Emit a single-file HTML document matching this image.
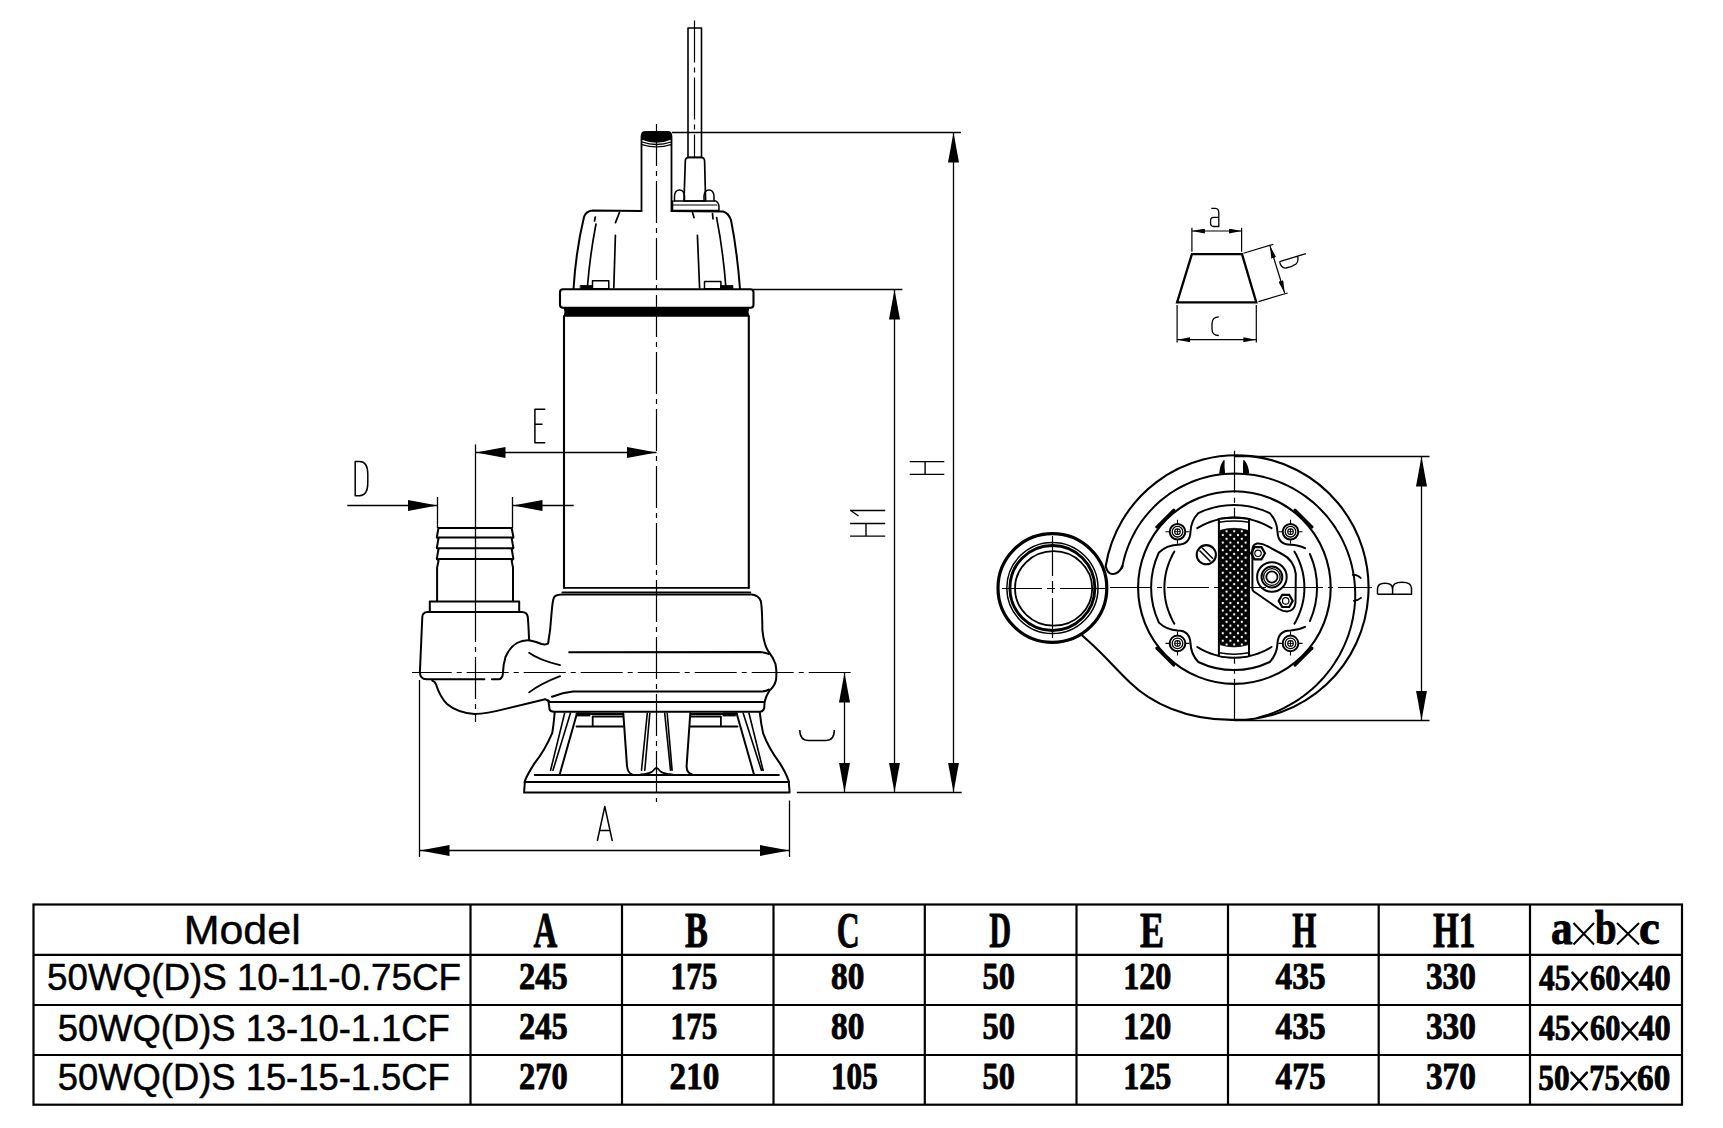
<!DOCTYPE html>
<html><head><meta charset="utf-8">
<style>
html,body{margin:0;padding:0;background:#fff;width:1723px;height:1128px;overflow:hidden}
svg{display:block}
.s{font-family:"Liberation Sans",sans-serif}
.n{font-family:"Liberation Serif",serif;font-weight:bold}
</style></head>
<body>
<svg width="1723" height="1128" viewBox="0 0 1723 1128">
<defs>
<marker id="ar" viewBox="0 0 30 11" refX="30" refY="5.5" markerWidth="30" markerHeight="11" markerUnits="userSpaceOnUse" orient="auto-start-reverse"><path d="M0,0 L30,5.5 L0,11 Z" fill="#000"/></marker>
<marker id="sa" viewBox="0 0 13 5" refX="13" refY="2.5" markerWidth="13" markerHeight="5" markerUnits="userSpaceOnUse" orient="auto-start-reverse"><path d="M0,0 L13,2.5 L0,5 Z" fill="#000"/></marker>
<pattern id="dots" x="1222.8" y="527.5" width="7.6" height="7.55" patternUnits="userSpaceOnUse"><rect width="7.6" height="7.55" fill="#000"/><circle cx="3.8" cy="3.78" r="1.15" fill="#fff"/><circle cx="0" cy="0" r="1.15" fill="#fff"/><circle cx="7.6" cy="0" r="1.15" fill="#fff"/><circle cx="0" cy="7.55" r="1.15" fill="#fff"/><circle cx="7.6" cy="7.55" r="1.15" fill="#fff"/></pattern>
</defs>
<rect width="1723" height="1128" fill="#fff"/>

<!-- TABLE -->
<g id="table" stroke="#000" stroke-width="2.2" fill="none">
<rect x="33.5" y="904.5" width="1648.5" height="200.2"/>
<line x1="33.5" y1="954.8" x2="1682" y2="954.8"/>
<line x1="33.5" y1="1005" x2="1682" y2="1005"/>
<line x1="33.5" y1="1055" x2="1682" y2="1055"/>
<line x1="470.5" y1="904.5" x2="470.5" y2="1104.7"/>
<line x1="622" y1="904.5" x2="622" y2="1104.7"/>
<line x1="773.5" y1="904.5" x2="773.5" y2="1104.7"/>
<line x1="924.8" y1="904.5" x2="924.8" y2="1104.7"/>
<line x1="1076.5" y1="904.5" x2="1076.5" y2="1104.7"/>
<line x1="1228" y1="904.5" x2="1228" y2="1104.7"/>
<line x1="1378.7" y1="904.5" x2="1378.7" y2="1104.7"/>
<line x1="1530" y1="904.5" x2="1530" y2="1104.7"/>
</g>
<g id="ttext" fill="#000">
<text class="s" x="183.7" y="943.5" font-size="40" stroke="#000" stroke-width="0.4" textLength="117" lengthAdjust="spacingAndGlyphs">Model</text>
<text class="s" x="47" y="990.3" font-size="37.5" stroke="#000" stroke-width="0.5" textLength="414" lengthAdjust="spacingAndGlyphs">50WQ(D)S 10-11-0.75CF</text>
<text class="s" x="57.8" y="1040.5" font-size="37.5" stroke="#000" stroke-width="0.5" textLength="392" lengthAdjust="spacingAndGlyphs">50WQ(D)S 13-10-1.1CF</text>
<text class="s" x="57.8" y="1090" font-size="37.5" stroke="#000" stroke-width="0.5" textLength="392" lengthAdjust="spacingAndGlyphs">50WQ(D)S 15-15-1.5CF</text>
<g class="n" font-size="38" stroke="#000" stroke-width="0.9" stroke-linejoin="round">
<g font-size="50.5">
<text x="533.4" y="946.8" textLength="23.8" lengthAdjust="spacingAndGlyphs">A</text>
<text x="684.9" y="946.8" textLength="22.9" lengthAdjust="spacingAndGlyphs">B</text>
<text x="836.7" y="946.8" textLength="22.9" lengthAdjust="spacingAndGlyphs">C</text>
<text x="989.2" y="946.8" textLength="21.9" lengthAdjust="spacingAndGlyphs">D</text>
<text x="1139.9" y="946.8" textLength="24.1" lengthAdjust="spacingAndGlyphs">E</text>
<text x="1292.2" y="946.8" textLength="24.1" lengthAdjust="spacingAndGlyphs">H</text>
<text x="1433" y="946.8" textLength="42.4" lengthAdjust="spacingAndGlyphs">H1</text>
</g>
<g font-size="48">
<text x="1550.9" y="944.3" textLength="21.6" lengthAdjust="spacingAndGlyphs">a</text>
<text x="1595" y="944.3" textLength="21.6" lengthAdjust="spacingAndGlyphs">b</text>
<text x="1639" y="944.3" textLength="20.8" lengthAdjust="spacingAndGlyphs">c</text>
</g>
<path d="M1573.5,923 L1594,944.5 M1594,923 L1573.5,944.5 M1617,923 L1639,944.5 M1639,923 L1617,944.5" stroke="#000" stroke-width="2" fill="none"/>

<text x="519" y="989" textLength="48.7" lengthAdjust="spacingAndGlyphs">245</text>
<text x="670.6" y="989" textLength="46.7" lengthAdjust="spacingAndGlyphs">175</text>
<text x="831" y="989" textLength="33.3" lengthAdjust="spacingAndGlyphs">80</text>
<text x="982.5" y="989" textLength="32.4" lengthAdjust="spacingAndGlyphs">50</text>
<text x="1123.2" y="989" textLength="48.2" lengthAdjust="spacingAndGlyphs">120</text>
<text x="1275.5" y="989" textLength="50.1" lengthAdjust="spacingAndGlyphs">435</text>
<text x="1425.9" y="989" textLength="50.1" lengthAdjust="spacingAndGlyphs">330</text>
<text x="1539.1" y="990.2" font-size="36.5" textLength="31.4" lengthAdjust="spacingAndGlyphs">45</text>
<text x="1590.1" y="990.2" font-size="36.5" textLength="30.4" lengthAdjust="spacingAndGlyphs">60</text>
<text x="1638.4" y="990.2" font-size="36.5" textLength="32.2" lengthAdjust="spacingAndGlyphs">40</text>
<path d="M1572.4,972.7 L1586.9,989.4000000000001 M1586.9,972.7 L1572.4,989.4000000000001" stroke-width="2.6" stroke-linecap="round"/>
<path d="M1622.4,972.7 L1637.4,989.4000000000001 M1637.4,972.7 L1622.4,989.4000000000001" stroke-width="2.6" stroke-linecap="round"/>

<text x="519" y="1039" textLength="48.7" lengthAdjust="spacingAndGlyphs">245</text>
<text x="670.6" y="1039" textLength="46.7" lengthAdjust="spacingAndGlyphs">175</text>
<text x="831" y="1039" textLength="33.3" lengthAdjust="spacingAndGlyphs">80</text>
<text x="982.5" y="1039" textLength="32.4" lengthAdjust="spacingAndGlyphs">50</text>
<text x="1123.2" y="1039" textLength="48.2" lengthAdjust="spacingAndGlyphs">120</text>
<text x="1275.5" y="1039" textLength="50.1" lengthAdjust="spacingAndGlyphs">435</text>
<text x="1425.9" y="1039" textLength="50.1" lengthAdjust="spacingAndGlyphs">330</text>
<text x="1539.1" y="1040.2" font-size="36.5" textLength="31.4" lengthAdjust="spacingAndGlyphs">45</text>
<text x="1590.1" y="1040.2" font-size="36.5" textLength="30.4" lengthAdjust="spacingAndGlyphs">60</text>
<text x="1638.4" y="1040.2" font-size="36.5" textLength="32.2" lengthAdjust="spacingAndGlyphs">40</text>
<path d="M1572.4,1022.7 L1586.9,1039.4 M1586.9,1022.7 L1572.4,1039.4" stroke-width="2.6" stroke-linecap="round"/>
<path d="M1622.4,1022.7 L1637.4,1039.4 M1637.4,1022.7 L1622.4,1039.4" stroke-width="2.6" stroke-linecap="round"/>

<text x="519" y="1089" textLength="48.7" lengthAdjust="spacingAndGlyphs">270</text>
<text x="669.6" y="1089" textLength="49.6" lengthAdjust="spacingAndGlyphs">210</text>
<text x="831" y="1089" textLength="46.7" lengthAdjust="spacingAndGlyphs">105</text>
<text x="982.5" y="1089" textLength="32.4" lengthAdjust="spacingAndGlyphs">50</text>
<text x="1123.2" y="1089" textLength="48.2" lengthAdjust="spacingAndGlyphs">125</text>
<text x="1275.5" y="1089" textLength="50.1" lengthAdjust="spacingAndGlyphs">475</text>
<text x="1425.9" y="1089" textLength="50.1" lengthAdjust="spacingAndGlyphs">370</text>
<text x="1538.3" y="1090.2" font-size="36.5" textLength="31.3" lengthAdjust="spacingAndGlyphs">50</text>
<text x="1589.2" y="1090.2" font-size="36.5" textLength="30.5" lengthAdjust="spacingAndGlyphs">75</text>
<text x="1637.1" y="1090.2" font-size="36.5" textLength="33.1" lengthAdjust="spacingAndGlyphs">60</text>
<path d="M1571.5,1072.7 L1586.9,1089.4 M1586.9,1072.7 L1571.5,1089.4" stroke-width="2.6" stroke-linecap="round"/>
<path d="M1621.5,1072.7 L1635.6,1089.4 M1635.6,1072.7 L1621.5,1089.4" stroke-width="2.6" stroke-linecap="round"/>
</g>
</g>

<!-- DIMENSIONS -->
<g id="dims" stroke="#000" stroke-width="1.3" fill="none">
<!-- H -->
<line x1="672" y1="132.5" x2="961" y2="132.5"/>
<line x1="953.5" y1="132.5" x2="953.5" y2="792.5" marker-start="url(#ar)" marker-end="url(#ar)"/>
<!-- H1 -->
<line x1="753" y1="289.5" x2="902.4" y2="289.5"/>
<line x1="894.5" y1="289.5" x2="894.5" y2="792.5" marker-start="url(#ar)" marker-end="url(#ar)"/>
<!-- C -->
<line x1="844.5" y1="672.5" x2="844.5" y2="792.5" marker-start="url(#ar)" marker-end="url(#ar)"/>
<line x1="796.8" y1="792.5" x2="961.7" y2="792.5"/>
<!-- A -->
<line x1="419.5" y1="680" x2="419.5" y2="857"/>
<line x1="789.5" y1="800.5" x2="789.5" y2="857"/>
<line x1="419.5" y1="850.5" x2="789.5" y2="850.5" marker-start="url(#ar)" marker-end="url(#ar)"/>
<!-- E -->
<line x1="475.5" y1="444.4" x2="475.5" y2="600"/>
<line x1="475.5" y1="452.5" x2="656.5" y2="452.5" marker-start="url(#ar)" marker-end="url(#ar)"/>
<!-- D -->
<line x1="437.5" y1="497" x2="437.5" y2="528"/>
<line x1="512.5" y1="497" x2="512.5" y2="528"/>
<line x1="347.3" y1="505.5" x2="437.5" y2="505.5" marker-end="url(#ar)"/>
<line x1="512.5" y1="505.5" x2="573.7" y2="505.5" marker-start="url(#ar)"/>
<!-- B -->
<line x1="1234" y1="456.5" x2="1429.5" y2="456.5"/>
<line x1="1234" y1="720.5" x2="1429.5" y2="720.5"/>
<line x1="1421.5" y1="456.5" x2="1421.5" y2="720.5" marker-start="url(#ar)" marker-end="url(#ar)"/>
</g>

<!-- dimension letters (stroke font) -->
<g id="letters" stroke="#000" stroke-width="1.4" fill="none" stroke-linecap="butt">
<!-- H rotated -->
<path d="M909.7,461.6 H944.3 M909.7,474.4 H944.3 M925.1,461.6 V474.4"/>
<!-- H1 rotated -->
<path d="M850.1,523.5 H885.2 M850.1,536.1 H885.2 M866,523.5 V536.1 M850.1,510.5 H885.2 M850.6,510.5 L858.6,516"/>
</g>


<g id="pump" stroke="#000" stroke-width="2" fill="none" stroke-linejoin="round" stroke-linecap="round">
<!-- cable -->
<rect x="688" y="28" width="13.5" height="129.5" stroke-width="1.6"/>
<path d="M684,201 L685.3,161 Q685.5,157.3 689,157.3 H701 Q704.5,157.3 704.6,161 L705.6,201 Z" stroke-width="1.7"/>
<path d="M674.5,201 V196 Q675,190 679.5,190 Q684,190 684.5,196 V201 M704,201 V196 Q704.5,190 709,190 Q713.5,190 714,196 V201" stroke-width="1.5"/>
<path d="M674,201 H716 Q719,203 719,207 V210.5 H672.5 V201" stroke-width="1.5"/>
<line x1="673" y1="205" x2="717" y2="205" stroke-width="1.1"/>
<!-- handle pipe -->
<path d="M641.5,211 V137 Q641.5,132 646,132 H667 Q671.5,132 671.5,137 V211" stroke-width="1.8"/>
<path d="M642.5,132.5 H670.5 V139 Q656.5,145 642.5,139 Z" fill="#000" stroke-width="1.5"/>
<path d="M642,142 Q656.5,147 671,142 M642,144.6 Q656.5,149 671,144.6" stroke-width="1.3"/>
<!-- motor cap -->
<path d="M573.5,289 Q576,250 584,217 Q586,211 592.5,210.5 L641.5,211 M671.5,211 L723,211.5 Q728.5,213 731,220 Q737,250 740,289" stroke-width="2"/>
<path d="M595.3,217 L594.5,221 M596,224 Q590,255 587.5,286" stroke-width="1.7"/>
<path d="M619.4,212.5 L615.5,222.6 M615.4,235.3 L613.8,287.8" stroke-width="1.7"/>
<path d="M692.5,212.6 L694,217.6 M697.4,235.3 L699.6,287.8" stroke-width="1.7"/>
<path d="M712.5,213.5 L713,219 M716.6,217.6 Q723,250 725.8,286.4" stroke-width="1.7"/>
<rect x="592.5" y="280.7" width="16.3" height="8" stroke-width="1.5"/>
<rect x="704.5" y="281.4" width="16.4" height="7.3" stroke-width="1.5"/>
<rect x="580.5" y="285.5" width="12" height="3.2" fill="#000" stroke-width="0.8"/>
<rect x="720.9" y="285.5" width="12" height="3.2" fill="#000" stroke-width="0.8"/>
<!-- flange -->
<rect x="560" y="289.2" width="193.5" height="18.6" rx="3" stroke-width="2.1"/>
<path d="M563.5,307.5 H749.5 L748.5,312 L749.5,316.8 H563.5 L564.5,312 Z" fill="#000" stroke="none"/>
<!-- body -->
<path d="M564,316 V587.8 M748.8,316 V587.8" stroke-width="2.1"/>
<line x1="564" y1="587.8" x2="748.8" y2="587.8" stroke-width="1.8"/>
<line x1="562.4" y1="592.4" x2="750.3" y2="592.4" stroke-width="1.8"/>
<!-- volute housing -->
<path d="M529.1,640.3 Q537,642 541.5,644 Q546,645 548.1,643.5 Q550.5,630 551.4,615 Q552.5,600 554.2,597 Q556.5,594.5 562.6,594.6 L751.8,594.6 Q758.5,595.5 760.8,601 Q762.2,608 762.4,630.4 Q764,645 768.4,651.5 Q773,657 775.5,664 Q777,672 776,680 Q774.5,686.5 769.5,690.5 Q766,696 764.5,702" stroke-width="2"/>
<path d="M569.2,652.2 L760,652 Q766,652.5 768.4,654" stroke-width="2"/>
<path d="M552,696.7 Q563,692.5 573,691.5 L762,691.5 Q767,691 768.8,689.5" stroke-width="2"/>
<path d="M548.9,702 H763.2" stroke-width="2"/>
<path d="M548.3,700.4 Q549,705 549.6,709.5 Q550.5,711.5 554,711.8 H760 Q763.5,711.5 764.2,708 L764.6,702" stroke-width="2"/>
<!-- discharge pipe -->
<path d="M437.1,601.2 V567.6 L438.5,560.7 L436.8,558.8 L438.5,549 L436.8,548 L438.5,538.3 L436.8,537.3 L438.5,528 H511.7 L513.4,537.3 L511.7,538.3 L513.4,548 L511.7,549 L513.4,558.8 L511.7,560.7 L513,567.6 V601.2" stroke-width="2"/>
<line x1="437" y1="537.5" x2="513" y2="537.5" stroke-width="2"/>
<line x1="437" y1="548.2" x2="513" y2="548.2" stroke-width="2"/>
<line x1="437" y1="559" x2="513" y2="559" stroke-width="2"/>
<rect x="429.8" y="601.4" width="89.4" height="10.7" stroke-width="2"/>
<!-- elbow -->
<path d="M529.1,640.3 Q528.5,625 527.8,617 Q527,612.3 522,612.1 H427.5 Q422.5,612.5 422.3,617 L419.9,671.9 Q420,679 426.7,679.3 H484.4" stroke-width="2"/>
<path d="M491.9,679.3 H498.5 Q502,679 502.8,674.5 Q503,665 505.5,657 Q510,647 517,643 Q522.5,640 529.1,640.3" stroke-width="2"/>
<path d="M529.1,652.7 Q539,660 560.1,665.1" stroke-width="1.8"/>
<path d="M529.1,692.4 Q541,683.5 560.1,676.2" stroke-width="1.8"/>
<path d="M432.3,680.6 Q435,681.5 436,684.3 Q440,697 447,704 Q457,712.5 474.5,714.1 Q487,713.5 504.3,709.1 L545.2,699.2 L548.9,701.1" stroke-width="2"/>
<!-- stand -->
<path d="M554.7,712.4 Q553.5,726 552.2,733.1 Q545,750 534.8,762.9 Q527,775 524.9,781 L524.1,792.6 H789.6 L788.7,781 Q786,773 779.6,762.9 Q768,747 763.1,733.1 Q761,724 759.8,712.4" stroke-width="2"/>
<line x1="524.6" y1="781.9" x2="789" y2="781.9" stroke-width="2"/>
<line x1="534.8" y1="774.9" x2="778.8" y2="774.9" stroke-width="2"/>
<path d="M564.6,713.2 L550.6,770.3 M570.4,713.2 L553,770.3" stroke-width="1.6"/>
<path d="M577,713.2 L559.7,774.4" stroke-width="2"/>
<path d="M736.6,713.2 L754,774.4" stroke-width="2"/>
<path d="M743.2,713.2 L761.4,770.3 M749,713.2 L763.1,770.3" stroke-width="1.6"/>
<path d="M623.3,713.2 L627,766 Q627.8,773 632,774.4" stroke-width="2"/>
<path d="M690.3,713.2 L686.6,766 Q686.5,773 692,774.4" stroke-width="2"/>
<path d="M647.3,713.2 L641.5,770.3 M649.8,713.2 L644.8,770.3 M664.7,713.2 L670.5,770.3 M667.2,713.2 L672.1,770.3" stroke-width="1.6"/>
<path d="M640.7,774.4 Q649,774 652.3,771.5 Q655,768.5 656.4,767.8 Q658,768.5 660.5,771.5 Q664,774 672.1,774.4" stroke-width="1.6"/>
<path d="M576.5,714 H622.5 M576.5,726.5 H623 M592.7,716.5 V726.5 M592.7,716.5 H622.5" stroke-width="1.8"/>
<path d="M691,714 H737 M690.5,726.5 H737.5 M720.9,716.5 V726.5 M691,716.5 H720.9" stroke-width="1.8"/>
<rect x="577" y="712.4" width="13.3" height="4" fill="#000" stroke="none"/>
<rect x="722.6" y="712.4" width="13.2" height="4" fill="#000" stroke="none"/>
</g>
<g id="clines" stroke="#000" stroke-width="1.2" fill="none" stroke-dasharray="42 5 5 5">
<line x1="656.5" y1="124" x2="656.5" y2="802"/>
<line x1="694.5" y1="20.5" x2="694.5" y2="157"/>
<line x1="850.7" y1="672.5" x2="412" y2="672.5"/>
<line x1="475.5" y1="600" x2="475.5" y2="722"/>
</g>

<!--BV--><g stroke="#000" stroke-width="1.2" fill="none" stroke-dasharray="42 5 5 5">
<line x1="1110" y1="587.5" x2="1372" y2="587.5"/>
<line x1="1234.5" y1="450.7" x2="1234.5" y2="725.7"/>
<path d="M1002,588.5 H1042 M1047,588.5 H1055 M1060,588.5 H1108 M1052.5,536 V576 M1052.5,581 V593 M1052.5,598 V638" stroke-dasharray="none"/>
</g>
<g id="bottomview" stroke="#000" stroke-width="2" fill="none" stroke-linejoin="round" stroke-linecap="round">
<path d="M1082.5,635.7 L1090,642.5 C1105,656 1115,668 1130,682.5 C1150,702 1185,720.5 1234.4,719.9 A132.3,132.3 0 1 0 1105.7,566.1 Q1107.5,574.5 1113.5,574 Q1119,573.5 1122.5,566" stroke-width="2.1"/>
<path d="M1122.1,567.8 L1123.1,562.9 L1124.3,558.1 L1125.7,553.3 L1127.3,548.6 L1129.1,544.0 L1131.1,539.4 L1133.3,535.0 L1135.7,530.6 L1138.3,526.3 L1141.0,522.2 L1144.0,518.2 L1147.1,514.3 L1150.4,510.6 L1153.8,507.0 L1157.4,503.6 L1161.1,500.3 L1165.0,497.2 L1169.0,494.2 L1173.1,491.5 L1177.4,488.9 L1181.8,486.5 L1186.2,484.3 L1190.8,482.3 L1195.4,480.5 L1200.1,478.9 L1204.9,477.5 L1209.7,476.3 L1214.6,475.3 L1219.5,474.6 L1224.5,474.0 L1229.4,473.7 L1234.4,473.6 L1239.4,473.7 L1244.3,474.0 L1249.3,474.5 L1254.2,475.1 L1259.1,476.0 L1264.0,477.1 L1268.8,478.4 L1273.6,479.9 L1278.3,481.6 L1282.9,483.5 L1287.5,485.6 L1292.0,487.9 L1296.3,490.4 L1300.6,493.0 L1304.8,495.9 L1308.8,498.9 L1312.8,502.1 L1316.6,505.4 L1320.2,509.0 L1323.7,512.7 L1327.1,516.5 L1330.2,520.5 L1333.3,524.6 L1336.1,528.9 L1338.8,533.3 L1341.3,537.8 L1343.6,542.4 L1345.7,547.1 L1347.6,551.9 L1349.3,556.8 L1350.8,561.8 L1352.1,566.9 L1353.1,572.0 L1354.0,577.1 L1354.6,582.4 L1355.0,587.6 L1355.2,592.9 L1355.2,598.2 L1354.9,603.5 L1354.4,608.8 L1353.6,614.0 L1352.7,619.3 L1351.5,624.5 L1350.1,629.7 L1348.5,634.8 L1346.6,639.9 L1344.5,644.9 L1342.2,649.8 L1339.7,654.7 L1336.9,659.4 L1334.0,664.0 L1330.9,668.5 L1327.5,672.9 L1324.0,677.2 L1320.2,681.3 L1316.3,685.2 L1312.2,689.0 L1307.9,692.6 L1303.5,696.0 L1298.9,699.3 L1294.1,702.4 L1289.2,705.2 L1284.2,707.9 L1279.1,710.3 L1273.8,712.6 L1268.4,714.6 L1262.9,716.3 L1257.4,717.9" stroke-width="2"/>
<circle cx="1234.4" cy="587.6" r="96.3" stroke-width="2.1"/>
<path d="M1305.0,548.2 Q1298.5,544.9 1290.5,544.7 Q1278.0,544.7 1277.5,531.7 Q1277.0,520.7 1269.7,513.1 A82.6,82.6 0 0 0 1198.3,513.1 Q1191.0,520.7 1190.5,531.7 Q1190.0,544.7 1177.5,544.7 Q1166.5,545.2 1158.9,552.5 A82.6,82.6 0 0 0 1158.9,622.6 Q1166.5,629.9 1177.5,630.4 Q1190.0,630.4 1190.5,643.4 Q1191.0,654.4 1198.3,662.0 A82.6,82.6 0 0 0 1269.7,662.0 Q1277.0,654.4 1277.5,643.4 Q1278.0,630.4 1290.5,630.4 Q1298.5,630.2 1305.0,626.9" stroke-width="2"/>
<path d="M1309.9,554.0 A82.6,82.6 0 0 1 1309.9,621.2" stroke-width="2"/>
<path d="M1197.3,528.2 L1200.5,526.3 L1203.8,524.6 L1207.2,523.1 L1210.7,521.7 L1214.2,520.6 L1217.8,519.6 L1221.4,518.8 L1225.1,518.2 L1228.8,517.8 L1232.5,517.6 L1236.3,517.6 L1240.0,517.8 L1243.7,518.2 L1247.4,518.8 L1251.0,519.6 L1254.6,520.6 L1258.1,521.7 L1261.6,523.1 L1265.0,524.6 L1268.3,526.3 L1271.5,528.2" stroke-width="2"/>
<path d="M1271.5,647.0 L1268.3,648.9 L1265.0,650.6 L1261.6,652.1 L1258.1,653.5 L1254.6,654.6 L1251.0,655.6 L1247.4,656.4 L1243.7,657.0 L1240.0,657.4 L1236.3,657.6 L1232.5,657.6 L1228.8,657.4 L1225.1,657.0 L1221.4,656.4 L1217.8,655.6 L1214.2,654.6 L1210.7,653.5 L1207.2,652.1 L1203.8,650.6 L1200.5,648.9 L1197.3,647.0" stroke-width="2"/>
<path d="M1174.4,623.7 L1172.5,620.4 L1170.9,617.0 L1169.4,613.5 L1168.1,609.9 L1166.9,606.3 L1166.0,602.6 L1165.3,598.9 L1164.8,595.2 L1164.5,591.4 L1164.4,587.6 L1164.5,583.8 L1164.8,580.0 L1165.3,576.3 L1166.0,572.6 L1166.9,568.9 L1168.1,565.3 L1169.4,561.7 L1170.9,558.2 L1172.5,554.8 L1174.4,551.5" stroke-width="2"/>
<path d="M1294.4,551.5 L1296.3,554.8 L1297.9,558.2 L1299.4,561.7 L1300.7,565.3 L1301.9,568.9 L1302.8,572.6 L1303.5,576.3 L1304.0,580.0 L1304.3,583.8 L1304.4,587.6 L1304.3,591.4 L1304.0,595.2 L1303.5,598.9 L1302.8,602.6 L1301.9,606.3 L1300.7,609.9 L1299.4,613.5 L1297.9,617.0 L1296.3,620.4 L1294.4,623.7" stroke-width="2"/>
<path d="M1156.8,527.0 L1173.8,510.0" stroke-width="3"/>
<path d="M1295.0,510.0 L1312.0,527.0" stroke-width="3"/>
<path d="M1312.0,648.2 L1295.0,665.2" stroke-width="3"/>
<path d="M1173.8,665.2 L1156.8,648.2" stroke-width="3"/>
<path d="M1219.9,473 Q1220.5,465 1224,460.8 Q1223.6,467 1224.4,473 Z M1243.7,473 Q1243.4,466 1243.9,460.6 Q1247.5,464 1248.6,473 Z" fill="#000" stroke-width="1.3"/>
<path d="M1352.7,574.9 Q1357.5,574.2 1360.7,578 M1353.8,600.8 Q1358,600.5 1361,597.9" stroke-width="1.8"/>
</g>
<g stroke="#000" fill="none">
<rect x="1218.9" y="518.6" width="30.1" height="138" fill="#fff" stroke="none"/>
<path d="M1218.9,657 V519 Q1234,516.5 1249,519 V657" stroke-width="2"/>
<path d="M1219,522.3 Q1234,519.5 1249,522.3" stroke-width="1.5"/>
<path d="M1219,652.8 Q1234,655.6 1249,652.8 M1219,656.3 Q1234,659 1249,656.3" stroke-width="1.5"/>
<path d="M1219.5,530.6 Q1234,526 1248.5,530.6 V644.6 Q1234,649.2 1219.5,644.6 Z" fill="url(#dots)" stroke="#000" stroke-width="0.8"/>
</g>
<g stroke="#000" fill="none">
<circle cx="1177.5" cy="531.7" r="7.8" stroke-width="2"/><circle cx="1177.5" cy="531.7" r="5.3" stroke-width="1.3"/><circle cx="1177.5" cy="531.7" r="2.8" stroke-width="1.1"/><path d="M1174.7,531.7 H1180.3 M1177.5,528.9000000000001 V534.5" stroke-width="0.9"/>
<path d="M1165.5,531.7 H1169.5 M1185.5,531.7 H1189.5 M1177.5,519.7 V523.7 M1177.5,539.7 V543.7" stroke-width="1.1"/>
<circle cx="1290.5" cy="531.7" r="7.8" stroke-width="2"/><circle cx="1290.5" cy="531.7" r="5.3" stroke-width="1.3"/><circle cx="1290.5" cy="531.7" r="2.8" stroke-width="1.1"/><path d="M1287.7,531.7 H1293.3 M1290.5,528.9000000000001 V534.5" stroke-width="0.9"/>
<path d="M1278.5,531.7 H1282.5 M1298.5,531.7 H1302.5 M1290.5,519.7 V523.7 M1290.5,539.7 V543.7" stroke-width="1.1"/>
<circle cx="1177.5" cy="643.4" r="7.8" stroke-width="2"/><circle cx="1177.5" cy="643.4" r="5.3" stroke-width="1.3"/><circle cx="1177.5" cy="643.4" r="2.8" stroke-width="1.1"/><path d="M1174.7,643.4 H1180.3 M1177.5,640.6 V646.1999999999999" stroke-width="0.9"/>
<path d="M1165.5,643.4 H1169.5 M1185.5,643.4 H1189.5 M1177.5,631.4 V635.4 M1177.5,651.4 V655.4" stroke-width="1.1"/>
<circle cx="1290.5" cy="643.4" r="7.8" stroke-width="2"/><circle cx="1290.5" cy="643.4" r="5.3" stroke-width="1.3"/><circle cx="1290.5" cy="643.4" r="2.8" stroke-width="1.1"/><path d="M1287.7,643.4 H1293.3 M1290.5,640.6 V646.1999999999999" stroke-width="0.9"/>
<path d="M1278.5,643.4 H1282.5 M1298.5,643.4 H1302.5 M1290.5,631.4 V635.4 M1290.5,651.4 V655.4" stroke-width="1.1"/>
<circle cx="1206.3" cy="554.7" r="9.6" stroke-width="2.1"/>
<path d="M1199.5,550.5 L1210.5,561.5 M1202,547.8 L1213,558.8" stroke-width="1.6"/>
<path d="M1252.4,589 V550 Q1252.4,544.5 1257,543.5 Q1262,543 1267,546 L1282,554 Q1294,560 1295.8,574 L1295.5,603 Q1294.5,611 1287,611.5 Q1283,611.5 1279,609 L1256,593 Q1252.4,591 1252.4,589 Z" stroke-width="2"/>
<circle cx="1271.9" cy="577" r="14.8" stroke-width="2"/><circle cx="1271.9" cy="577" r="10.4" stroke-width="2"/><circle cx="1271.9" cy="577" r="8.3" stroke-width="1.3"/><circle cx="1271.9" cy="577" r="5.6" stroke-width="1.8"/>
<path d="M1265.0,553.3 L1261.5,559.4 L1254.5,559.4 L1251.0,553.3 L1254.5,547.2 L1261.5,547.2 Z" stroke-width="2.2"/><circle cx="1258" cy="553.3" r="3.2" stroke-width="1.2"/>
<path d="M1292.7,600.9 L1289.2,607.0 L1282.2,607.0 L1278.7,600.9 L1282.2,594.8 L1289.2,594.8 Z" stroke-width="2.2"/><circle cx="1285.7" cy="600.9" r="3.2" stroke-width="1.2"/>
</g>
<g stroke="#000" fill="none">
<circle cx="1052.4" cy="588" r="54.4" stroke-width="3.2"/>
<circle cx="1052.4" cy="588" r="45.6" stroke-width="1.5"/>
<circle cx="1052.4" cy="588" r="42.5" stroke-width="2.9"/>
<ellipse cx="1053.6" cy="588.4" rx="38.6" ry="37.3" stroke-width="1.8"/>
</g><!--/BV-->

<g id="trap" stroke="#000" fill="none" stroke-linejoin="miter">
<path d="M1191.9,254.1 H1242 L1256.3,302.3 H1177.1 Z" stroke-width="2.3"/>
<g stroke-width="1.2">
<line x1="1191.9" y1="227.7" x2="1191.9" y2="251.8"/>
<line x1="1241.6" y1="227.7" x2="1241.6" y2="251.8"/>
<line x1="1191.9" y1="231" x2="1241.6" y2="231" marker-start="url(#sa)" marker-end="url(#sa)"/>
<line x1="1177.1" y1="305" x2="1177.1" y2="342.5"/>
<line x1="1256.3" y1="305" x2="1256.3" y2="342.5"/>
<line x1="1177.1" y1="339.7" x2="1256.3" y2="339.7" marker-start="url(#sa)" marker-end="url(#sa)"/>
<line x1="1243.5" y1="253.3" x2="1273.4" y2="244.3"/>
<line x1="1258.5" y1="301.6" x2="1287.6" y2="293"/>
<line x1="1269.9" y1="245.6" x2="1284.7" y2="293.3" marker-start="url(#sa)" marker-end="url(#sa)"/>
</g>
</g>
<g id="letters2" stroke="#000" stroke-width="1.5" fill="none" stroke-linecap="butt" stroke-linejoin="round">
<path d="M355.2,461.4 H359.5 C365.2,461.4 367.8,466.5 367.8,474 V483 C367.8,490.5 365.2,495.7 359.5,495.7 H355.2 Z"/>
<path d="M545.3,409.3 H534.9 V442.8 H545.3 M534.9,424.3 H542.6"/>
<path d="M597.3,841 L604.8,806.5 L612.3,841 M599.6,830.5 H610"/>
<path d="M799.8,729.9 Q799.8,740.4 808.5,740.4 H825.8 Q834.3,740.4 834.3,729.9"/>
<path d="M1377.5,594.2 H1411.5 V588.5 Q1411.5,582.3 1402,582.3 Q1392.6,582.3 1392.6,588.5 V594.2 M1392.6,589 Q1392.6,583.3 1385,583.3 Q1377.5,583.3 1377.5,589 V594.2"/>
<path d="M1211.3,208.4 H1215.5 Q1218.8,208.6 1218.8,213 V226.5 H1213.7 Q1210.5,226.5 1210.5,222.5 V221 Q1210.5,217.4 1213.7,217.4 H1218.8" stroke-width="1.3"/>
<path d="M1279.6,261.7 L1305.9,253.6 M1279.6,261.7 Q1281,268.5 1286,268 Q1292,267 1296,264 Q1299,261 1297.5,256.2" stroke-width="1.3"/>
<path d="M1218.8,316.8 Q1212,317 1212,323.5 V329 Q1212,335.5 1218.8,335.5" stroke-width="1.3"/>
</g>

</svg>
</body></html>
